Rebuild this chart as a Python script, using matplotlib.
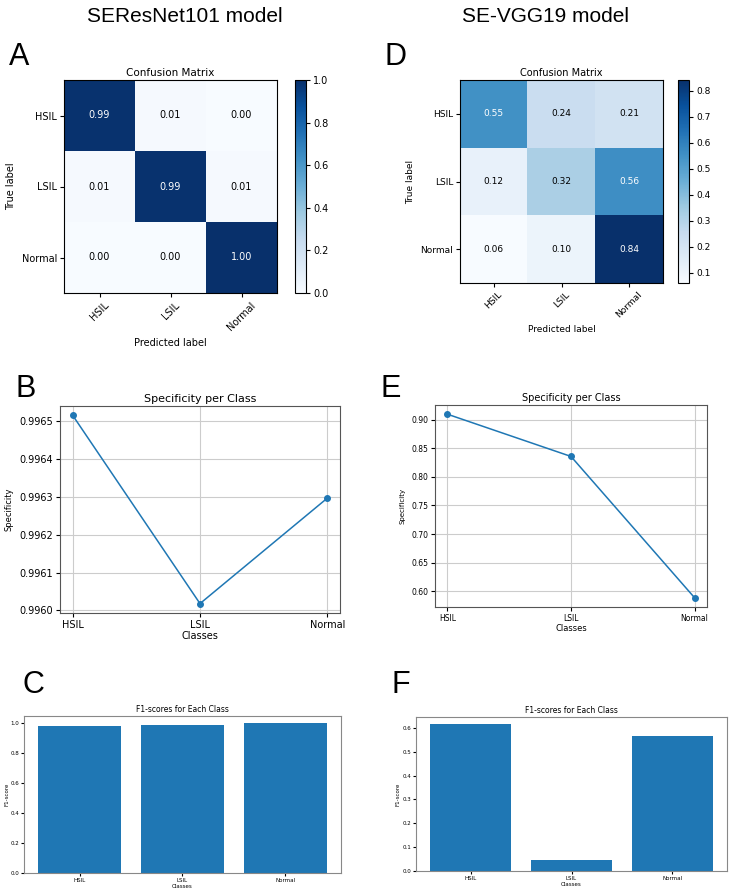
import numpy as np
import matplotlib
matplotlib.use('Agg')
import matplotlib.pyplot as plt

classes = ['HSIL', 'LSIL', 'Normal']

# confusion matrices (normalised)
cm_resnet = np.array([[0.99, 0.01, 0.00],
                      [0.01, 0.99, 0.01],
                      [0.00, 0.00, 1.00]])
cm_vgg = np.array([[0.55, 0.24, 0.21],
                   [0.12, 0.32, 0.56],
                   [0.06, 0.10, 0.84]])

spec_resnet = [0.996516, 0.996018, 0.996297]
spec_vgg = [0.9098, 0.8358, 0.5883]

f1_resnet = [0.984, 0.987, 0.999]
f1_vgg = [0.615, 0.046, 0.568]

W, H = 729, 892
fig = plt.figure(figsize=(W / 100, H / 100), dpi=100)


def box(l, t, r, b):
    return [l / W, 1 - b / H, (r - l) / W, (b - t) / H]


def conf_matrix(ax_rect, cb_rect, cm, vmin, vmax, cticks, fs=7):
    ax = fig.add_axes(box(*ax_rect))
    im = ax.imshow(cm, cmap='Blues', vmin=vmin, vmax=vmax, aspect='auto')
    ax.set_title('Confusion Matrix', fontsize=fs + 0.5, pad=3)
    ax.set_xticks(range(3))
    ax.set_xticklabels(classes, rotation=45, fontsize=fs)
    ax.set_yticks(range(3))
    ax.set_yticklabels(classes, fontsize=fs)
    ax.set_xlabel('Predicted label', fontsize=fs)
    ax.set_ylabel('True label', fontsize=fs)
    ax.tick_params(length=3, pad=2)
    thresh = cm.max() / 2
    for i in range(3):
        for j in range(3):
            ax.text(j, i, '%.2f' % cm[i, j], ha='center', va='center', fontsize=fs,
                    color='white' if cm[i, j] > thresh else 'black')
    cax = fig.add_axes(box(*cb_rect))
    cb = fig.colorbar(im, cax=cax, ticks=cticks)
    cb.ax.tick_params(labelsize=fs, length=3, pad=2)
    return ax


def spec_plot(ax_rect, vals, fs_tick, fs_title, fs_lab):
    ax = fig.add_axes(box(*ax_rect))
    ax.plot(classes, vals, marker='o', markersize=4, linewidth=1.1, color='#1f77b4')
    ax.grid(True, color='#cccccc', linewidth=0.8)
    ax.set_title('Specificity per Class', fontsize=fs_title, pad=3)
    ax.set_xlabel('Classes', fontsize=fs_lab, labelpad=1)
    ax.set_ylabel('Specificity', fontsize=fs_lab - 1)
    ax.tick_params(labelsize=fs_tick, length=3, pad=2)
    for s in ax.spines.values():
        s.set_color('#555555')
    return ax


def f1_plot(ax_rect, vals, fs):
    ax = fig.add_axes(box(*ax_rect))
    ax.bar(classes, vals, color='#1f77b4')
    ax.set_title('F1-scores for Each Class', fontsize=fs + 1.5, pad=3)
    ax.set_xlabel('Classes', fontsize=fs, labelpad=1)
    ax.set_ylabel('F1-score', fontsize=fs, labelpad=1)
    ax.tick_params(labelsize=fs, length=2, pad=1.5)
    for s in ax.spines.values():
        s.set_color('#888888')
    return ax


# column headers
fig.text(185 / W, 1 - 17 / H, 'SEResNet101 model', fontsize=15, family='Liberation Sans',
         ha='center', va='center')
fig.text(546 / W, 1 - 17 / H, 'SE-VGG19 model', fontsize=15, family='Liberation Sans',
         ha='center', va='center')

# panel letters
for lab, x, y in [('A', 9, 65), ('D', 384, 65), ('B', 15, 397), ('E', 381, 397),
                  ('C', 22, 693), ('F', 392, 693)]:
    fig.text(x / W, 1 - y / H, lab, fontsize=22, family='Liberation Sans', ha='left', va='baseline')

conf_matrix((64, 80, 277, 293), (295, 80, 306, 293), cm_resnet, 0.0, 1.0,
            [0.0, 0.2, 0.4, 0.6, 0.8, 1.0])
conf_matrix((460, 80, 663, 283), (678, 80, 689, 283), cm_vgg, 0.06, 0.842,
            [0.1, 0.2, 0.3, 0.4, 0.5, 0.6, 0.7, 0.8], fs=6.5)

spec_plot((60, 406, 340, 613), spec_resnet, 7, 8, 7)
spec_plot((435, 405, 707, 607), spec_vgg, 5.5, 7, 6)

f1_plot((24, 716, 341, 873), f1_resnet, 4)
f1_plot((416, 717, 727, 871), f1_vgg, 4)

fig.savefig('out.png', dpi=100)
